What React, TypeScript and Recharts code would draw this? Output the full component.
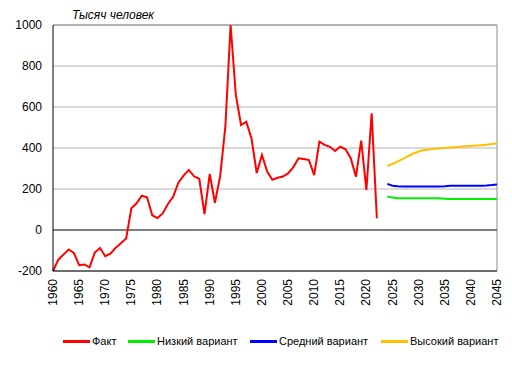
import React from 'react';
import { LineChart, Line, XAxis, YAxis, CartesianGrid, ReferenceLine, Legend } from 'recharts';

const factYears: number[] = Array.from({ length: 63 }, (_, i) => 1960 + i);
const factValues: number[] = [
  -200, -146, -120, -95, -112, -172, -168, -182, -110, -88,
  -128, -115, -86, -65, -42, 106, 130, 167, 160, 72,
  58, 81, 127, 162, 231, 265, 293, 262, 250, 78,
  273, 133, 262, 505, 1000, 659, 512, 528, 447, 278,
  366, 285, 245, 255, 261, 276, 307, 350, 346, 341,
  268, 431, 415, 406, 385, 406, 394, 350, 260, 436,
  195, 569, 57,
];

const forecastYears: number[] = Array.from({ length: 22 }, (_, i) => 2024 + i);
const lowValues: number[] = [163, 158, 155, 155, 155, 155, 155, 155, 155, 155, 155, 153, 151, 151, 151, 151, 151, 151, 151, 151, 151, 151];
const midValues: number[] = [225, 216, 213, 212, 212, 212, 212, 212, 212, 212, 212, 213, 216, 216, 216, 216, 216, 216, 216, 217, 219, 222];
const highValues: number[] = [312, 322, 335, 347, 360, 373, 383, 390, 393, 396, 398, 400, 402, 404, 406, 408, 410, 412, 414, 416, 419, 422];

const xTicks: number[] = [1960, 1965, 1970, 1975, 1980, 1985, 1990, 1995, 2000, 2005, 2010, 2015, 2020, 2025, 2030, 2035, 2040, 2045];
const yTicks: number[] = [-200, 0, 200, 400, 600, 800, 1000];

const seriesNames = {
  fact: 'Факт',
  low: 'Низкий вариант',
  mid: 'Средний вариант',
  high: 'Высокий вариант',
};
const colors = { fact: '#ff0000', low: '#00ee00', mid: '#0000ff', high: '#ffc000' };

type Row = { year: number; fact?: number; low?: number; mid?: number; high?: number };
const rowsMap = new Map<number, Row>();
const getRow = (y: number) => {
  if (!rowsMap.has(y)) rowsMap.set(y, { year: y });
  return rowsMap.get(y)!;
};
factYears.forEach((y, i) => { getRow(y).fact = factValues[i]; });
forecastYears.forEach((y, i) => {
  const r = getRow(y);
  r.low = lowValues[i];
  r.mid = midValues[i];
  r.high = highValues[i];
});
const data: Row[] = Array.from(rowsMap.values()).sort((a, b) => a.year - b.year);

const FONT = '"Liberation Sans", Arial, sans-serif';

const XTick = (props: any) => {
  const { x, y, payload } = props;
  return (
    <text
      x={x}
      y={y}
      transform={`rotate(-90, ${x}, ${y})`}
      textAnchor="end"
      dominantBaseline="central"
      fontSize={12}
      fontFamily={FONT}
      fill="#000"
    >
      {payload.value}
    </text>
  );
};

const legendKeys: (keyof typeof colors)[] = ['fact', 'low', 'mid', 'high'];
const legendLefts = [55, 120, 242, 373];

const LegendContent = () => (
  <div style={{ position: 'relative', height: 20, width: 504, fontFamily: FONT, fontSize: 11, color: '#000' }}>
    {legendKeys.map((k, idx) => (
      <div key={k} style={{ position: 'absolute', left: legendLefts[idx], top: 0, height: 20, display: 'flex', alignItems: 'center', whiteSpace: 'nowrap' }}>
        <span style={{ display: 'inline-block', width: 27, height: 3, background: colors[k], marginRight: 2 }} />
        <span>{seriesNames[k]}</span>
      </div>
    ))}
  </div>
);

export default function App() {
  return (
    <div style={{ position: 'relative', width: 504, height: 367 }}>
      <LineChart width={504} height={367} data={data} margin={{ top: 17, right: 15, left: 0, bottom: 24 }}>
        <CartesianGrid vertical={false} stroke="#b4b4b4" />
        <XAxis
          dataKey="year"
          type="number"
          domain={[1960, 2045]}
          ticks={xTicks}
          interval={0}
          tickLine={false}
          axisLine={{ stroke: '#000' }}
          height={60}
          tick={<XTick />}
        />
        <YAxis
          domain={[-200, 1000]}
          ticks={yTicks}
          interval={0}
          width={45}
          tickLine={false}
          tickMargin={5}
          axisLine={{ stroke: '#000' }}
          tick={{ fontSize: 12, fontFamily: FONT, fill: '#000' }}
        />
        <ReferenceLine y={1000} stroke="#8c8c8c" />
        <ReferenceLine x={2045} stroke="#8c8c8c" />
        <ReferenceLine y={0} stroke="#222" />
        <Line type="linear" dataKey="fact" name={seriesNames.fact} stroke={colors.fact} strokeWidth={2} dot={false} isAnimationActive={false} />
        <Line type="linear" dataKey="low" name={seriesNames.low} stroke={colors.low} strokeWidth={2} dot={false} isAnimationActive={false} />
        <Line type="linear" dataKey="mid" name={seriesNames.mid} stroke={colors.mid} strokeWidth={2} dot={false} isAnimationActive={false} />
        <Line type="linear" dataKey="high" name={seriesNames.high} stroke={colors.high} strokeWidth={2} dot={false} isAnimationActive={false} />
        <Legend verticalAlign="bottom" content={<LegendContent />} wrapperStyle={{ left: 0, width: 504, height: 20 }} />
      </LineChart>
      <div style={{ position: 'absolute', left: 64, top: 0, fontFamily: FONT, fontSize: 12, fontStyle: 'italic', color: '#000', lineHeight: '14px', whiteSpace: 'nowrap' }}>
        Тысяч человек
      </div>
    </div>
  );
}
